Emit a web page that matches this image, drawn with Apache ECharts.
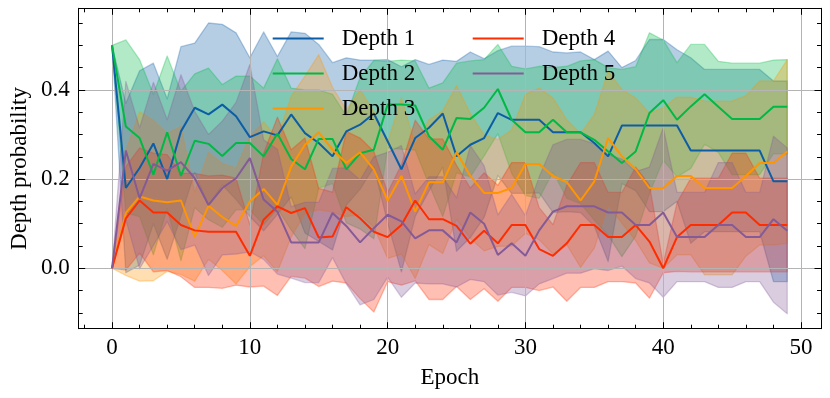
<!DOCTYPE html>
<html>
<head>
<meta charset="utf-8">
<script src="https://cdn.jsdelivr.net/npm/echarts@6/dist/echarts.min.js"></script>
<style>
  html, body { margin: 0; padding: 0; background: #fff; }
  #main { width: 830px; height: 398px; }
</style>
</head>
<body>
<div id="main"></div>
<script>
const epochs = [0, 1, 2, 3, 4, 5, 6, 7, 8, 9, 10, 11, 12, 13, 14, 15, 16, 17, 18, 19,
  20, 21, 22, 23, 24, 25, 26, 27, 28, 29, 30, 31, 32, 33, 34, 35, 36, 37, 38, 39,
  40, 41, 42, 43, 44, 45, 46, 47, 48, 49];

// mean of each depth
const depth1 = [0.50, 0.18, 0.225, 0.28, 0.20, 0.307, 0.36, 0.345, 0.367, 0.341,
  0.294, 0.307, 0.298, 0.345, 0.303, 0.281, 0.251, 0.307, 0.322, 0.347,
  0.285, 0.222, 0.292, 0.315, 0.347, 0.251, 0.277, 0.292, 0.348, 0.333,
  0.333, 0.333, 0.305, 0.305, 0.305, 0.281, 0.251, 0.32, 0.32, 0.32,
  0.32, 0.32, 0.264, 0.264, 0.264, 0.264, 0.264, 0.264, 0.195, 0.195];
const depth2 = [0.50, 0.318, 0.292, 0.21, 0.305, 0.207, 0.286, 0.279, 0.252, 0.281,
  0.281, 0.251, 0.302, 0.245, 0.222, 0.29, 0.29, 0.222, 0.258, 0.266,
  0.367, 0.367, 0.365, 0.296, 0.266, 0.337, 0.335, 0.36, 0.402, 0.333,
  0.305, 0.305, 0.333, 0.305, 0.305, 0.288, 0.262, 0.236, 0.262, 0.348,
  0.377, 0.333, 0.363, 0.39, 0.362, 0.335, 0.335, 0.335, 0.362, 0.362];
const depth3 = [0, 0.124, 0.161, 0.152, 0.148, 0.152, 0.071, 0.14, 0.115, 0.095,
  0.15, 0.178, 0.142, 0.228, 0.277, 0.305, 0.266, 0.236, 0.26, 0.222,
  0.152, 0.207, 0.127, 0.193, 0.193, 0.26, 0.207, 0.169, 0.169, 0.18,
  0.234, 0.234, 0.207, 0.193, 0.152, 0.195, 0.292, 0.251, 0.222, 0.18,
  0.18, 0.207, 0.207, 0.18, 0.18, 0.18, 0.207, 0.236, 0.236, 0.262];
const depth4 = [0, 0.112, 0.152, 0.125, 0.125, 0.097, 0.085, 0.082, 0.082, 0.082,
  0.028, 0.109, 0.139, 0.124, 0.135, 0.069, 0.071, 0.137, 0.112, 0.082,
  0.07, 0.097, 0.152, 0.11, 0.11, 0.095, 0.055, 0.084, 0.056, 0.097,
  0.097, 0.043, 0.028, 0.056, 0.097, 0.097, 0.07, 0.07, 0.097, 0.06,
  0, 0.07, 0.097, 0.097, 0.097, 0.125, 0.125, 0.097, 0.097, 0.097];
const depth5 = [0, 0.264, 0.157, 0.234, 0.219, 0.238, 0.202, 0.142, 0.18, 0.202,
  0.247, 0.154, 0.127, 0.058, 0.058, 0.058, 0.124, 0.095, 0.058, 0.09,
  0.12, 0.105, 0.067, 0.085, 0.085, 0.058, 0.125, 0.1, 0.03, 0.056,
  0.028, 0.085, 0.127, 0.139, 0.139, 0.139, 0.125, 0.125, 0.097, 0.097,
  0.125, 0.07, 0.07, 0.07, 0.097, 0.097, 0.07, 0.07, 0.11, 0.084];

// spread (std) of each depth
const depth1Std = [0, 0.19, 0.218, 0.18, 0.18, 0.19, 0.145, 0.205, 0.18, 0.187,
  0.178, 0.223, 0.177, 0.185, 0.224, 0.221, 0.21, 0.165, 0.145, 0.12,
  0.183, 0.23, 0.176, 0.142, 0.12, 0.213, 0.208, 0.178, 0.14, 0.165,
  0.165, 0.164, 0.18, 0.178, 0.18, 0.187, 0.236, 0.13, 0.146, 0.193,
  0.193, 0.17, 0.208, 0.182, 0.182, 0.182, 0.182, 0.182, 0.225, 0.225];
const depth2Std = [0, 0.194, 0.176, 0.18, 0.171, 0.19, 0.15, 0.17, 0.16, 0.15,
  0.15, 0.153, 0.168, 0.159, 0.178, 0.11, 0.1, 0.12, 0.17, 0.2,
  0.097, 0.1, 0.1, 0.108, 0.15, 0.123, 0.13, 0.108, 0.1, 0.12,
  0.142, 0.148, 0.117, 0.148, 0.16, 0.18, 0.188, 0.21, 0.19, 0.18,
  0.135, 0.128, 0.139, 0.112, 0.102, 0.125, 0.125, 0.125, 0.105, 0.106];
const depth3Std = [0, 0.14, 0.19, 0.18, 0.155, 0.166, 0.1, 0.12, 0.12, 0.13,
  0.146, 0.15, 0.15, 0.158, 0.154, 0.174, 0.14, 0.12, 0.14, 0.13,
  0.13, 0.175, 0.15, 0.14, 0.16, 0.15, 0.14, 0.13, 0.12, 0.13,
  0.156, 0.17, 0.175, 0.14, 0.15, 0.15, 0.15, 0.15, 0.16, 0.168,
  0.18, 0.177, 0.177, 0.195, 0.195, 0.195, 0.18, 0.184, 0.184, 0.206];
const depth4Std = [0, 0.116, 0.118, 0.133, 0.13, 0.116, 0.128, 0.125, 0.127, 0.12,
  0.07, 0.149, 0.2, 0.142, 0.157, 0.11, 0.1, 0.17, 0.18, 0.18,
  0.1, 0.135, 0.18, 0.18, 0.18, 0.136, 0.125, 0.13, 0.13, 0.14,
  0.14, 0.093, 0.07, 0.13, 0.14, 0.14, 0.1, 0.1, 0.13, 0.127,
  0.01, 0.077, 0.105, 0.105, 0.105, 0.133, 0.133, 0.105, 0.105, 0.105];
const depth5Std = [0, 0.155, 0.158, 0.183, 0.114, 0.196, 0.15, 0.158, 0.15, 0.17,
  0.21, 0.134, 0.14, 0.08, 0.09, 0.09, 0.1, 0.13, 0.14, 0.16,
  0.14, 0.17, 0.1, 0.12, 0.12, 0.1, 0.15, 0.13, 0.09, 0.11,
  0.09, 0.12, 0.15, 0.15, 0.15, 0.14, 0.13, 0.12, 0.12, 0.13,
  0.19, 0.1, 0.1, 0.1, 0.14, 0.14, 0.1, 0.1, 0.186, 0.186];

const names = ["Depth 1", "Depth 2", "Depth 3", "Depth 4", "Depth 5"];
const means = [depth1, depth2, depth3, depth4, depth5];
const stds = [depth1Std, depth2Std, depth3Std, depth4Std, depth5Std];
const colors = ["#0C5DA5", "#00B945", "#FF9500", "#FF2C00", "#845B97"];

const xMajor = [0, 10, 20, 30, 40, 50];
const xMinor = [-2, 2, 4, 6, 8, 12, 14, 16, 18, 22, 24, 26, 28, 32, 34, 36, 38, 42, 44, 46, 48];
const yMajor = [0, 0.2, 0.4];
const yMinor = [-0.1, -0.05, 0.05, 0.1, 0.15, 0.25, 0.3, 0.35, 0.45, 0.5, 0.55];

const font = "Liberation Serif";
const X_MIN = -2.42, X_MAX = 51.45, Y_MIN = -0.1355, Y_MAX = 0.583;

const rgba = (hex, a) => {
  const n = parseInt(hex.slice(1), 16);
  return "rgba(" + (n >> 16) + "," + ((n >> 8) & 255) + "," + (n & 255) + "," + a + ")";
};

const makeX = (position, ticks, len, opts) => Object.assign({
  type: "value", min: X_MIN, max: X_MAX, position: position,
  axisLine: { show: true, onZero: false, lineStyle: { color: "#000", width: 1 } },
  axisTick: { show: true, inside: true, length: len, customValues: ticks, lineStyle: { color: "#000", width: 1 } },
  axisLabel: { show: false },
  splitLine: { show: false },
  z: 1.5
}, opts);
const makeY = (position, ticks, len, opts) => Object.assign({
  type: "value", min: Y_MIN, max: Y_MAX, position: position,
  axisLine: { show: true, onZero: false, lineStyle: { color: "#000", width: 1 } },
  axisTick: { show: true, inside: true, length: len, customValues: ticks, lineStyle: { color: "#000", width: 1 } },
  axisLabel: { show: false },
  splitLine: { show: false },
  z: 1.5
}, opts);

const series = [];
// shaded bands (mean ± std), drawn as one polygon each
names.forEach((name, k) => {
  const rows = epochs.map((e, i) => [e, means[k][i] - stds[k][i], means[k][i] + stds[k][i]]);
  series.push({
    name: name + " band", type: "custom", silent: true, z: 1,
    data: rows,
    encode: { x: 0, y: [1, 2] },
    renderItem: (params, api) => {
      if (params.dataIndex !== 0) return null;
      const pts = [];
      rows.forEach((r) => pts.push(api.coord([r[0], r[2]])));
      rows.slice().reverse().forEach((r) => pts.push(api.coord([r[0], r[1]])));
      return {
        type: "polygon",
        shape: { points: pts },
        style: { fill: rgba(colors[k], 0.3), stroke: rgba(colors[k], 0.3), lineWidth: 1.3, lineJoin: "round" }
      };
    }
  });
});
names.forEach((name, k) => {
  series.push({
    name: name, type: "line", data: epochs.map((e, i) => [e, means[k][i]]),
    symbol: "none", silent: true, z: 3,
    color: colors[k],
    lineStyle: { color: colors[k], width: 2 }
  });
});

const legendBase = {
  orient: "vertical", top: 27, padding: 0,
  itemWidth: 51, itemHeight: 2, itemGap: 12,
  icon: "path://M0,0H51V2H0Z",
  selectedMode: false,
  textStyle: { fontFamily: font, fontSize: 23, lineHeight: 22, color: "#000", padding: [0, 0, 0, 13] }
};

const chart = echarts.init(document.getElementById("main"), null, { renderer: "canvas" });
chart.setOption({
  animation: false,
  backgroundColor: "#fff",
  grid: { left: 78.7, right: 9, top: 8.3, bottom: 69.3, containLabel: false, outerBoundsMode: "none" },
  legend: [
    Object.assign({}, legendBase, { left: 272.7, data: names.slice(0, 3) }),
    Object.assign({}, legendBase, { left: 472.7, data: names.slice(3) })
  ],
  xAxis: [
    makeX("bottom", xMajor, 6.5, {
      name: "Epoch", nameLocation: "middle", nameGap: 38, nameMoveOverlap: false,
      nameTextStyle: { fontFamily: font, fontSize: 23, color: "#000" },
      axisLabel: { show: true, customValues: xMajor, margin: 8,
        fontFamily: font, fontSize: 23, color: "#000", formatter: (v) => String(Math.round(v)) },
      splitLine: { show: true, lineStyle: { color: "#b4b4b4", width: 1 } }
    }),
    makeX("bottom", xMinor, 4, { axisLine: { show: false, onZero: false } }),
    makeX("top", xMajor, 6.5),
    makeX("top", xMinor, 4, { axisLine: { show: false, onZero: false } })
  ],
  yAxis: [
    makeY("left", yMajor, 6.5, {
      name: "Depth probability", nameLocation: "middle", nameGap: 47, nameMoveOverlap: false,
      nameTextStyle: { fontFamily: font, fontSize: 23, color: "#000" },
      axisLabel: { show: true, customValues: yMajor, margin: 9,
        fontFamily: font, fontSize: 23, color: "#000", formatter: (v) => v.toFixed(1) },
      splitLine: { show: true, lineStyle: { color: "#b4b4b4", width: 1 } }
    }),
    makeY("left", yMinor, 4, { axisLine: { show: false, onZero: false } }),
    makeY("right", yMajor, 6.5),
    makeY("right", yMinor, 4, { axisLine: { show: false, onZero: false } })
  ],
  series: series
});
</script>
</body>
</html>
